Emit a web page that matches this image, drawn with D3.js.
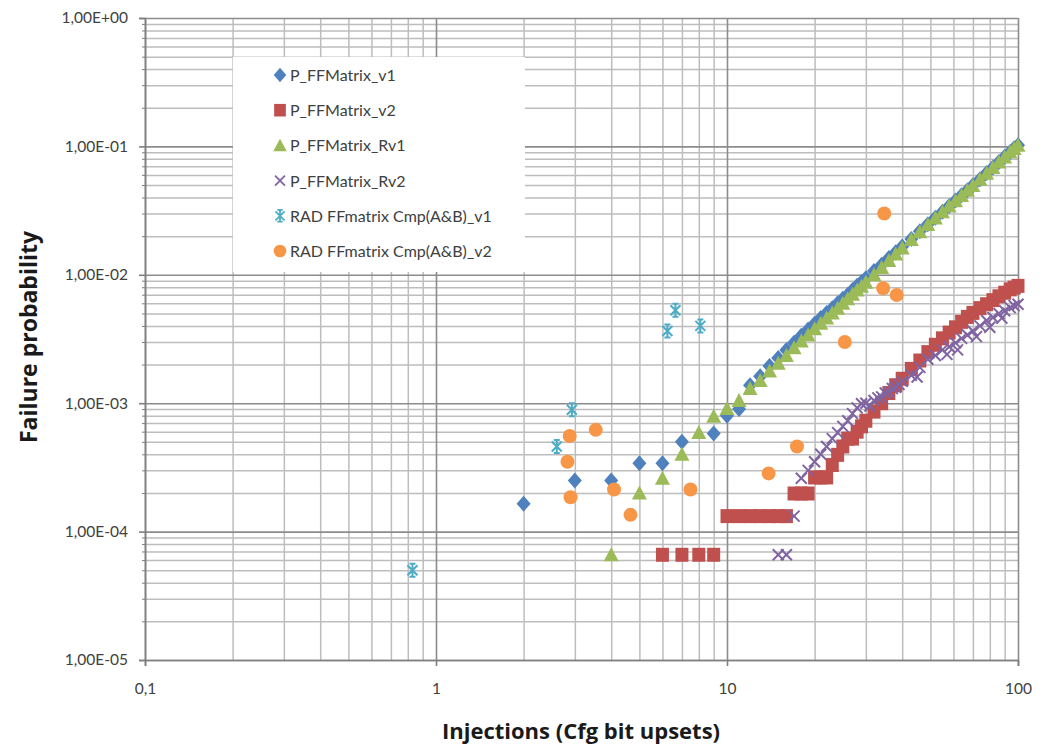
<!DOCTYPE html>
<html>
<head>
<meta charset="utf-8">
<script src="https://cdn.jsdelivr.net/npm/d3@7"></script>
<style>
  body { margin: 0; background: #fff; }
  svg { display: block; }
</style>
</head>
<body>
<svg id="chart" width="1046" height="749"></svg>
<script>
// series names, in legend order
const seriesNames = ["P_FFMatrix_v1", "P_FFMatrix_v2", "P_FFMatrix_Rv1", "P_FFMatrix_Rv2",
                     "RAD FFmatrix Cmp(A&B)_v1", "RAD FFmatrix Cmp(A&B)_v2"];

// P_FFMatrix_v1 (blue diamonds)
const v1X = [2, 3, 4, 5, 6, 7, 9, 10, 11, 12, 13, 14, 15, 16, 17, 18, 19, 20, 21, 22, 23, 24, 25, 26, 27, 28, 29, 30,
             32, 34, 36, 38, 40, 43, 46, 49, 52, 55, 58, 61, 64, 67, 70, 74, 78, 82, 86, 90, 94, 97, 100];
const v1Y = [1.65e-4, 2.5e-4, 2.5e-4, 3.4e-4, 3.4e-4, 5.0e-4, 5.8e-4, 8.0e-4, 9.0e-4, 1.38e-3, 1.62e-3, 1.95e-3,
             2.25e-3, 2.6e-3, 2.95e-3, 3.35e-3, 3.75e-3, 4.15e-3, 4.6e-3, 5.05e-3, 5.5e-3, 6.0e-3, 6.5e-3, 7.0e-3,
             7.6e-3, 8.2e-3, 8.8e-3, 9.4e-3, 1.07e-2, 1.2e-2, 1.35e-2, 1.5e-2, 1.66e-2, 1.9e-2, 2.18e-2, 2.48e-2,
             2.78e-2, 3.1e-2, 3.44e-2, 3.79e-2, 4.16e-2, 4.56e-2, 4.98e-2, 5.56e-2, 6.2e-2, 6.86e-2, 7.56e-2,
             8.3e-2, 9.06e-2, 9.66e-2, 0.102];

// P_FFMatrix_v2 (red squares)
const v2X = [6, 7, 8, 9, 10, 11, 12, 13, 14, 15, 16, 17, 18, 19, 20, 21, 22, 23, 24, 25, 26, 27, 28, 29, 30,
             32, 34, 36, 38, 40, 43, 46, 49, 52, 55, 58, 61, 64, 67, 70, 74, 78, 82, 86, 90, 94, 97, 100];
const v2Y = [6.6e-5, 6.6e-5, 6.6e-5, 6.6e-5, 1.32e-4, 1.32e-4, 1.32e-4, 1.32e-4, 1.32e-4, 1.32e-4, 1.32e-4,
             1.98e-4, 1.98e-4, 1.98e-4, 2.64e-4, 2.64e-4, 2.64e-4, 3.3e-4, 3.96e-4, 4.6e-4, 5.3e-4, 5.3e-4,
             6.0e-4, 6.6e-4, 7.3e-4, 8.6e-4, 1.0e-3, 1.2e-3, 1.38e-3, 1.55e-3, 1.85e-3, 2.15e-3, 2.5e-3,
             2.85e-3, 3.2e-3, 3.55e-3, 3.9e-3, 4.3e-3, 4.7e-3, 5.05e-3, 5.5e-3, 5.9e-3, 6.35e-3, 6.8e-3,
             7.25e-3, 7.7e-3, 7.95e-3, 8.2e-3];

// P_FFMatrix_Rv1 (green triangles)
const rv1X = [4, 5, 6, 7, 8, 9, 10, 11, 12, 13, 14, 15, 16, 17, 18, 19, 20, 21, 22, 23, 24, 25, 26, 27, 28, 29, 30,
              32, 34, 36, 38, 40, 43, 46, 49, 52, 55, 58, 61, 64, 67, 70, 74, 78, 82, 86, 90, 94, 97, 100];
const rv1Y = [6.6e-5, 2.0e-4, 2.6e-4, 4.0e-4, 5.9e-4, 7.9e-4, 9.1e-4, 1.05e-3, 1.3e-3, 1.5e-3, 1.78e-3, 2.05e-3,
              2.35e-3, 2.7e-3, 3.05e-3, 3.4e-3, 3.8e-3, 4.2e-3, 4.6e-3, 5.05e-3, 5.5e-3, 6.0e-3, 6.5e-3, 7.05e-3,
              7.6e-3, 8.15e-3, 8.75e-3, 1.0e-2, 1.14e-2, 1.29e-2, 1.45e-2, 1.62e-2, 1.88e-2, 2.16e-2, 2.46e-2,
              2.77e-2, 3.1e-2, 3.43e-2, 3.78e-2, 4.15e-2, 4.55e-2, 4.97e-2, 5.55e-2, 6.18e-2, 6.85e-2, 7.55e-2,
              8.28e-2, 9.05e-2, 9.65e-2, 0.102];

// P_FFMatrix_Rv2 (purple crosses)
const rv2X = [15, 16, 17, 18, 19, 20, 21, 22, 23, 24, 25, 26, 27, 28, 29, 30, 31, 32, 33, 34, 35, 36, 37, 38, 39, 40,
              43, 45, 46, 49, 52, 55, 57, 58, 61, 62, 64, 67, 70, 72, 74, 78, 80, 82, 86, 88, 90, 94, 97, 100];
const rv2Y = [6.6e-5, 6.6e-5, 1.32e-4, 2.6e-4, 3.0e-4, 3.5e-4, 4.0e-4, 4.6e-4, 5.3e-4, 5.9e-4, 6.6e-4, 7.3e-4,
              8.3e-4, 9.2e-4, 9.9e-4, 1.0e-3, 9.5e-4, 1.05e-3, 1.1e-3, 1.12e-3, 1.2e-3, 1.22e-3, 1.3e-3, 1.33e-3,
              1.4e-3, 1.48e-3, 1.65e-3, 1.6e-3, 1.9e-3, 2.2e-3, 2.35e-3, 2.6e-3, 2.4e-3, 2.75e-3, 2.95e-3, 2.6e-3,
              3.2e-3, 3.4e-3, 3.65e-3, 3.3e-3, 4.0e-3, 4.4e-3, 3.9e-3, 4.65e-3, 5.0e-3, 4.6e-3, 5.25e-3, 5.55e-3,
              5.75e-3, 5.9e-3];

// RAD FFmatrix Cmp(A&B)_v1 (cyan stars)
const radV1X = [0.83, 2.6, 2.93, 6.24, 6.65, 8.1];
const radV1Y = [5.0e-5, 4.6e-4, 8.9e-4, 3.65e-3, 5.3e-3, 4.0e-3];

// RAD FFmatrix Cmp(A&B)_v2 (orange circles)
const radV2X = [2.83, 2.88, 2.9, 3.54, 4.09, 4.66, 7.49, 13.9, 17.4, 25.4, 34.4, 34.7, 38.3];
const radV2Y = [3.5e-4, 5.55e-4, 1.85e-4, 6.2e-4, 2.13e-4, 1.35e-4, 2.13e-4, 2.84e-4, 4.6e-4, 3.0e-3, 7.85e-3, 3.0e-2, 6.97e-3];

// axis ticks
const xTicks = [0.1, 1, 10, 100];
const yTicks = [1e-5, 1e-4, 1e-3, 1e-2, 1e-1, 1];

const colors = ["#4F81BD", "#C0504D", "#9BBB59", "#8064A2", "#4BACC6", "#F79646"];
const shapes = ["diamond", "square", "triangle", "cross", "star", "circle"];

const series = [
    [v1X, v1Y], [v2X, v2Y], [rv1X, rv1Y], [rv2X, rv2Y], [radV1X, radV1Y], [radV2X, radV2Y]
].map(([xs, ys], i) => ({
    name: seriesNames[i], color: colors[i], shape: shapes[i],
    points: xs.map((x, j) => ({x: x, y: ys[j]}))
}));

const svg = d3.select("#chart");
const plotLeft = 145, plotRight = 1018, plotTop = 18, plotBottom = 660;

const x = d3.scaleLog().domain([0.1, 100]).range([plotLeft, plotRight]);
const y = d3.scaleLog().domain([1e-5, 1]).range([plotBottom, plotTop]);

// minor positions for the grid
const minorX = [], minorY = [];
for (let d = 0.1; d < 99; d *= 10) for (let k = 2; k <= 9; k++) minorX.push(+(d * k).toPrecision(3));
for (let d = 1e-5; d < 0.9; d *= 10) for (let k = 2; k <= 9; k++) minorY.push(+(d * k).toPrecision(3));

const grid = svg.append("g");
grid.append("g")
    .attr("transform", `translate(0,${plotBottom})`)
    .call(d3.axisBottom(x).tickValues(minorX).tickSize(-(plotBottom - plotTop)).tickFormat(""))
    .call(g => g.select(".domain").remove())
    .call(g => g.selectAll("line").attr("stroke", "#bdbdbd").attr("stroke-width", 1.5));
grid.append("g")
    .attr("transform", `translate(${plotLeft},0)`)
    .call(d3.axisLeft(y).tickValues(minorY).tickSize(-(plotRight - plotLeft)).tickFormat(""))
    .call(g => g.select(".domain").remove())
    .call(g => g.selectAll("line").attr("stroke", "#bdbdbd").attr("stroke-width", 1.5));
grid.append("g")
    .attr("transform", `translate(0,${plotBottom})`)
    .call(d3.axisBottom(x).tickValues(xTicks).tickSize(-(plotBottom - plotTop)).tickFormat(""))
    .call(g => g.select(".domain").remove())
    .call(g => g.selectAll("line").attr("stroke", "#8c8c8c").attr("stroke-width", 1.6));
grid.append("g")
    .attr("transform", `translate(${plotLeft},0)`)
    .call(d3.axisLeft(y).tickValues(yTicks).tickSize(-(plotRight - plotLeft)).tickFormat(""))
    .call(g => g.select(".domain").remove())
    .call(g => g.selectAll("line").attr("stroke", "#8c8c8c").attr("stroke-width", 1.6));

// axes
const fmtY = d => {
    const e = Math.round(Math.log10(d));
    return "1,00E" + (e < 0 ? "-" : "+") + String(Math.abs(e)).padStart(2, "0");
};
const yAxis = svg.append("g")
    .attr("transform", `translate(${plotLeft},0)`)
    .call(d3.axisLeft(y).tickValues(yTicks).tickSize(6).tickPadding(11).tickFormat(fmtY));
const xAxis = svg.append("g")
    .attr("transform", `translate(0,${plotBottom})`)
    .call(d3.axisBottom(x).tickValues(xTicks).tickSize(6).tickPadding(17)
        .tickFormat(d => String(d).replace(".", ",")));
[xAxis, yAxis].forEach(a => {
    a.select(".domain").attr("stroke", "#7f7f7f").attr("stroke-width", 1.6);
    a.selectAll(".tick line").attr("stroke", "#7f7f7f").attr("stroke-width", 1.6);
    a.selectAll(".tick text").attr("fill", "#404040").attr("font-family", "Lato, 'Open Sans', sans-serif").attr("font-size", 15.5);
});
// small minor ticks on the value axis
svg.append("g")
    .attr("transform", `translate(${plotLeft},0)`)
    .call(d3.axisLeft(y).tickValues(minorY).tickSize(3).tickFormat(""))
    .call(g => g.select(".domain").remove())
    .call(g => g.selectAll("line").attr("stroke", "#7f7f7f"));

// legend box (covers the grid)
const legend = svg.append("g");
legend.append("rect")
    .attr("x", 233).attr("y", 57).attr("width", 292).attr("height", 215)
    .attr("fill", "#fff");

// marker shapes
function marker(sel, shape, color) {
    if (shape === "circle") {
        sel.append("circle").attr("r", 7).attr("fill", color);
    } else if (shape === "diamond") {
        sel.append("path").attr("d", "M0,-8L7,0L0,8L-7,0Z").attr("fill", color);
    } else if (shape === "square") {
        sel.append("path").attr("d", "M-6.5,-7H6.5V7H-6.5Z").attr("fill", color);
    } else if (shape === "triangle") {
        sel.append("path").attr("d", "M0,-7.5L7.5,6.5L-7.5,6.5Z").attr("fill", color);
    } else if (shape === "cross") {
        sel.append("path").attr("d", "M-5.5,-5.5L5.5,5.5M5.5,-5.5L-5.5,5.5")
            .attr("fill", "none").attr("stroke", color).attr("stroke-width", 2);
    } else if (shape === "star") {
        sel.append("path").attr("d", "M-5,-5L5,5M5,-5L-5,5M0,-6.5V6.5M-3,-6.5H3M-3,6.5H3")
            .attr("fill", "none").attr("stroke", color).attr("stroke-width", 2);
    }
}

// points
const plot = svg.append("g");
series.forEach(s => {
    plot.append("g").selectAll("g")
        .data(s.points)
        .join("g")
        .attr("transform", d => `translate(${x(d.x)},${y(d.y)})`)
        .each(function() { marker(d3.select(this), s.shape, s.color); });
});

// legend entries
series.forEach((s, i) => {
    const row = legend.append("g").attr("transform", `translate(280,${75 + i * 35.2})`);
    const m = row.append("g").attr("transform", "scale(0.9)");
    marker(m, s.shape, s.color);
    row.append("text")
        .attr("x", 10).attr("y", 6)
        .attr("font-family", "Lato, 'Open Sans', sans-serif")
        .attr("font-size", 16)
        .attr("fill", "#404040")
        .text(s.name);
});

// axis titles
svg.append("text")
    .attr("transform", `translate(37,337) rotate(-90)`)
    .attr("text-anchor", "middle")
    .attr("font-family", "'Open Sans', sans-serif")
    .attr("font-weight", "bold")
    .attr("font-size", 23)
    .attr("fill", "#1a1a1a")
    .text("Failure probability");
svg.append("text")
    .attr("x", 581).attr("y", 739)
    .attr("text-anchor", "middle")
    .attr("font-family", "'Open Sans', sans-serif")
    .attr("font-weight", "bold")
    .attr("font-size", 22)
    .attr("fill", "#1a1a1a")
    .text("Injections (Cfg bit upsets)");
</script>
</body>
</html>
